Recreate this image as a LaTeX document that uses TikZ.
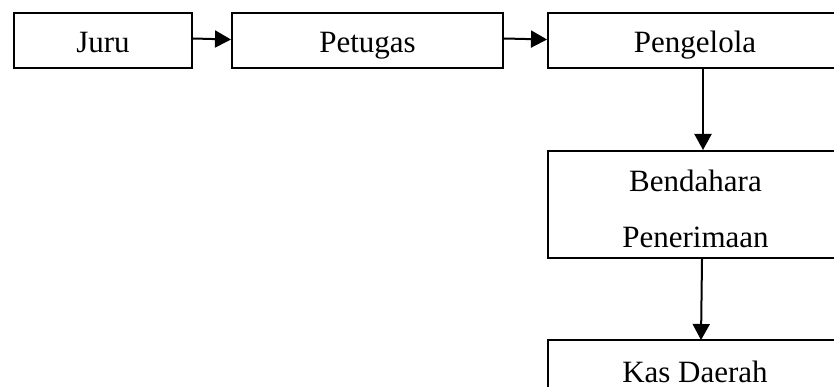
\documentclass[tikz,border=0pt]{standalone}
\usepackage{fontspec}
\setmainfont{Liberation Serif}
\usetikzlibrary{arrows.meta}
\begin{document}
\begin{tikzpicture}[x=1pt,y=-1pt,
  box/.style={draw,line width=2pt,inner sep=0pt,font=\fontsize{31}{40}\selectfont,text height=25pt,text depth=0pt},
  label/.style={inner sep=0pt,font=\fontsize{31}{40}\selectfont},
  arr/.style={line width=2pt,-{Triangle[length=16pt,width=17pt]}}]
\useasboundingbox (0,0) rectangle (834,387);
\clip (0,0) rectangle (834,387);
\node[box,minimum width=178pt,minimum height=55pt] (juru) at (103,40.5) {Juru};
\node[box,minimum width=271pt,minimum height=55pt] (petugas) at (367.5,40.5) {Petugas};
\node[box,minimum width=294pt,minimum height=55pt] (pengelola) at (695,40.5) {Pengelola};
\node[draw,line width=2pt,minimum width=294pt,minimum height=107pt] (bendahara) at (695,204.5) {};
\node[label,anchor=base] (bend1) at (695.5,192) {Bendahara};
\node[label,anchor=base] (bend2) at (695.5,247) {Penerimaan};
\coordinate (kastop) at (701,340);
\node[label,anchor=base] (kas) at (695,382) {Kas Daerah};
\draw[line width=2pt] (548,390) -- (548,340) -- (840,340);
\draw[arr] ([yshift=2pt]juru.east) -- ([yshift=1pt]petugas.west);
\draw[arr] ([yshift=2pt]petugas.east) -- ([yshift=1pt]pengelola.west);
\draw[arr] ([xshift=8pt]pengelola.south) -- ([xshift=8pt]bendahara.north);
\draw[arr] ([xshift=7pt]bendahara.south) -- (kastop);
\end{tikzpicture}
\end{document}
